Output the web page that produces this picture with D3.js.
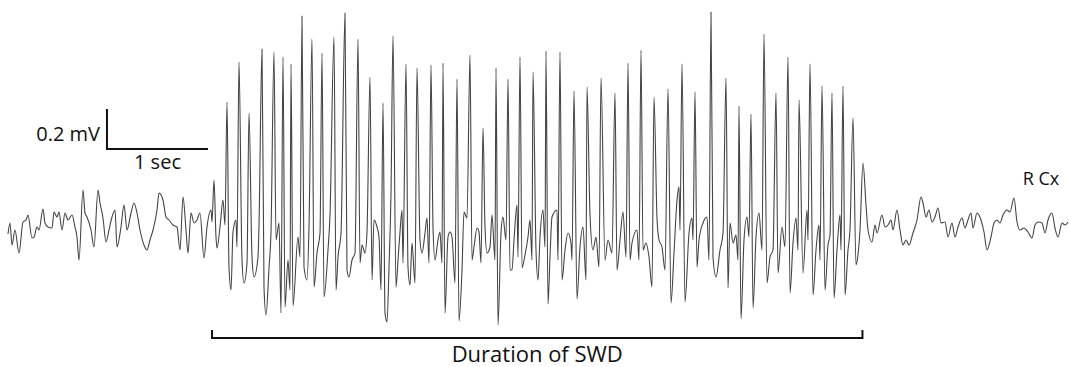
<!DOCTYPE html>
<html>
<head>
<meta charset="utf-8">
<script src="https://cdn.jsdelivr.net/npm/d3@7"></script>
<style>
  body { margin: 0; background: #fff; }
  svg { display: block; }
  text { font-family: "Open Sans", "Noto Sans", sans-serif; fill: #111; }
</style>
</head>
<body>
<svg id="chart"></svg>
<script>
// sampling rate of the trace (samples per second)
const fs = 101;

// background EEG before the discharge (sample index, microvolts)
const preSamples = [0, 2, 4, 7, 11, 15, 18, 20, 24, 26, 29, 31, 35, 37, 40, 44, 46, 49, 51, 54, 57, 60, 64, 67, 69, 71, 75, 77, 79, 83, 86, 90, 92, 95, 98, 101, 104, 107, 109, 113, 116, 119, 123, 126, 129, 132, 136, 139, 142, 145, 149, 151, 155, 158, 161, 165, 169, 172, 175, 178, 180, 183, 186, 189, 192, 196, 199, 203, 204, 206, 208, 209, 212, 215, 217];
const preValues = [-20, 35, -75, 0, -115, 40, 50, 75, -40, -35, 15, 0, 105, 35, 15, 10, 90, 65, 90, 0, 85, 50, 75, 15, -35, -150, 200, 85, 65, 0, -85, 200, 135, 60, -60, 0, 65, 100, -85, 15, 125, 0, 85, 135, 85, 0, -75, -100, -50, 0, 100, 185, 150, 65, 50, 25, 15, -100, 165, 0, -115, 85, 35, 50, 85, -140, 15, 100, 40, 250, -35, -90, 15, 150, 25];

// spike-and-wave discharge
const swdSamples = [219, 221, 223, 225, 228, 229, 231, 234, 236, 239, 241, 244, 246, 250, 251, 254, 256, 258, 261, 263, 266, 268, 271, 273, 275, 277, 280, 282, 283, 285, 290, 292, 294, 296, 299, 301, 304, 306, 309, 312, 314, 316, 320, 322, 326, 328, 330, 333, 337, 339, 341, 344, 347, 350, 352, 354, 357, 359, 362, 364, 366, 369, 371, 373, 375, 377, 379, 381, 383, 385, 388, 390, 392, 394, 395, 398, 400, 402, 404, 407, 409, 412, 414, 417, 419, 421, 423, 425, 427, 430, 432, 434, 435, 437, 440, 442, 444, 447, 449, 451, 454, 456, 459, 462, 464, 466, 469, 471, 473, 475, 477, 479, 482, 484, 487, 488, 490, 493, 495, 498, 500, 502, 504, 506, 509, 510, 512, 514, 517, 520, 522, 524, 525, 528, 530, 532, 535, 537, 538, 540, 542, 544, 549, 550, 552, 554, 557, 560, 563, 564, 566, 569, 572, 575, 578, 579, 582, 585, 588, 591, 593, 597, 600, 604, 607, 609, 612, 615, 618, 620, 622, 624, 629, 631, 633, 635, 638, 641, 644, 646, 649, 651, 654, 657, 660, 663, 666, 669, 671, 672, 674, 677, 681, 684, 685, 687, 689, 691, 695, 699, 701, 703, 705, 708, 712, 715, 718, 720, 722, 725, 728, 730, 731, 733, 736, 739, 741, 743, 745, 748, 751, 754, 756, 759, 762, 765, 768, 770, 774, 777, 780, 782, 785, 788, 790, 791, 795, 799, 800, 802, 805, 808, 811, 812, 814, 817, 820, 822, 824, 826, 829, 832, 833, 835, 837, 840, 842, 845, 848, 850, 852, 855, 858, 860];
const swdValues = [640, -185, -300, -10, 50, -85, 840, -150, -265, -165, 585, -135, -235, -135, 25, 905, -285, -425, -190, -10, 890, -50, 35, -415, 865, -385, -150, -300, 830, -380, -35, -135, 1070, -185, -250, 15, 955, -285, -115, -15, 885, -335, -100, 75, 965, -300, -135, -15, 1085, -200, -235, -150, -115, 955, -165, -75, -115, -10, 765, -250, 50, 15, -35, -300, 635, -415, -460, -185, 185, 970, -285, -150, -10, 100, -165, 830, -185, -275, -65, -265, 810, -50, -115, -15, 60, -165, 825, 15, -150, -50, -10, -165, 835, -415, -35, -10, -35, -265, 755, -455, -200, 90, 60, 875, -150, -85, 10, -10, -165, 510, 15, -115, -85, 75, -150, 810, -475, -15, 65, -50, 755, -200, -200, -50, 125, -135, 865, -190, -125, -35, 50, -150, 790, -100, -250, -35, 100, -85, 895, -370, -135, 65, 100, -150, 890, -250, -100, -15, -65, -150, 695, -345, -85, 15, -250, 715, 75, -100, -35, -185, 760, -150, -50, -115, 685, -200, -50, 90, -135, 835, -150, -65, 0, -150, 900, -100, -65, -135, -285, 665, 60, -50, -85, -200, 705, -365, -115, 150, 215, 0, 830, -360, -15, 60, -50, 690, -185, -50, 35, 65, -150, 1090, -135, -235, -100, -15, 760, -290, 35, -65, -25, -150, 620, -445, -50, 65, -35, 580, -390, -35, 85, -100, 980, -265, -135, -100, 685, -215, 15, -85, 865, -315, -65, 60, -100, 650, -215, 100, -50, 830, -325, -100, 25, -150, 720, -300, -75, -25, 685, -340, -100, 75, -100, 720, -325, -100, 0, 560, -175, -125, 0, 335, 125, 0];

// background EEG after the discharge
const postSamples = [864, 867, 869, 874, 877, 880, 883, 885, 889, 892, 895, 898, 901, 905, 909, 913, 915, 918, 921, 924, 927, 930, 933, 937, 940, 944, 947, 950, 954, 957, 959, 963, 965, 969, 973, 976, 979, 983, 986, 989, 992, 995, 999, 1002, 1006, 1009, 1012, 1016, 1020, 1024, 1027, 1030, 1034, 1037, 1040, 1044, 1047, 1050, 1054, 1057, 1060];
const postValues = [-60, 25, -15, 75, 15, 25, 50, 0, 100, 0, -75, -50, -75, -15, 50, 165, 135, 65, 100, 40, 65, 110, 35, 40, -35, 35, -35, 15, 60, 10, 35, 85, 10, 85, 50, -10, -100, -35, 35, 50, 35, 75, 100, 90, 160, 40, 0, 10, -10, -40, 25, 40, 35, -15, 50, 85, 10, -35, 35, 25, 40];

// calibration bar and discharge marker (seconds, microvolts)
const barOrigin = [0.98, 405];
const barTime = 1;        // s
const barVolt = 200;      // uV
const swdStart = 2.02;
const swdEnd = 8.46;
const bracketLevel = -540;
const bracketTick = 40;

const labels = {volt: "0.2 mV", time: "1 sec", channel: "R Cx", swd: "Duration of SWD"};

const width = 1069, height = 367;

const svg = d3.select("#chart")
  .attr("width", width)
  .attr("height", height);

const x = d3.scaleLinear()
  .domain([0, 10])
  .range([8, 8 + 10 * fs]);

const y = d3.scaleLinear()
  .domain([0, 1000])
  .range([230, 30]);

function toPoints(samples, values) {
  return samples.map(function(s, i) { return [s / fs, values[i]]; });
}

const trace = toPoints(preSamples, preValues)
  .concat(toPoints(swdSamples, swdValues))
  .concat(toPoints(postSamples, postValues));

const line = d3.line()
  .x(function(d) { return x(d[0]); })
  .y(function(d) { return y(d[1]); })
  .curve(d3.curveMonotoneX);

svg.append("path")
  .datum(trace)
  .attr("d", line)
  .attr("fill", "none")
  .attr("stroke", "#444")
  .attr("stroke-width", 1.1)
  .attr("stroke-linejoin", "round");

// calibration bar
const bx = x(barOrigin[0]), by = y(barOrigin[1]);
svg.append("path")
  .attr("d", "M" + bx + "," + y(barOrigin[1] + barVolt) +
             "V" + by + "H" + x(barOrigin[0] + barTime))
  .attr("fill", "none")
  .attr("stroke", "#111")
  .attr("stroke-width", 2);

svg.append("text")
  .attr("x", bx - 7)
  .attr("y", by - 8)
  .attr("text-anchor", "end")
  .attr("font-size", 20)
  .text(labels.volt);

svg.append("text")
  .attr("x", (bx + x(barOrigin[0] + barTime)) / 2)
  .attr("y", by + 20)
  .attr("text-anchor", "middle")
  .attr("font-size", 20)
  .text(labels.time);

svg.append("text")
  .attr("x", 1041)
  .attr("y", 185)
  .attr("text-anchor", "middle")
  .attr("font-size", 18)
  .text(labels.channel);

// SWD bracket
const lx = x(swdStart), rx = x(swdEnd);
svg.append("path")
  .attr("d", "M" + lx + "," + y(bracketLevel + bracketTick) + "V" + y(bracketLevel) +
             "H" + rx + "V" + y(bracketLevel + bracketTick))
  .attr("fill", "none")
  .attr("stroke", "#111")
  .attr("stroke-width", 2);

svg.append("text")
  .attr("x", (lx + rx) / 2)
  .attr("y", 362)
  .attr("text-anchor", "middle")
  .attr("font-size", 22)
  .text(labels.swd);
</script>
</body>
</html>
